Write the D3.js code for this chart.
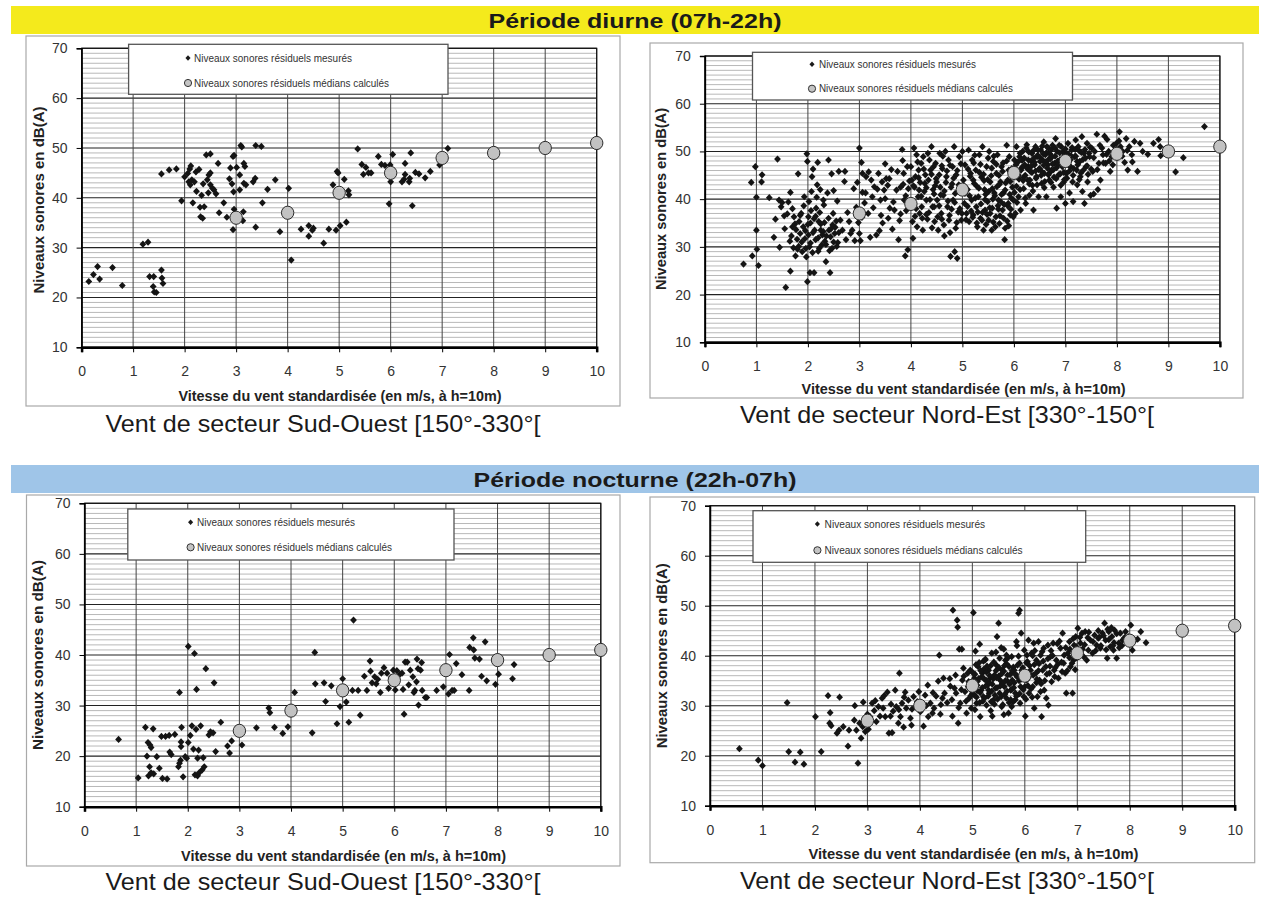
<!DOCTYPE html>
<html>
<head>
<meta charset="utf-8">
<script src="https://cdn.jsdelivr.net/npm/d3@7"></script>
<style>
body { margin: 0; background: #fff; }
svg { display: block; }
</style>
</head>
<body>
<svg id="chart" width="1268" height="899"></svg>
<script>
// tick labels
var xTicks = [0, 1, 2, 3, 4, 5, 6, 7, 8, 9, 10];
var yTicks = [10, 20, 30, 40, 50, 60, 70];

// median values (calculated) per wind speed
var medianSpeeds = [3, 4, 5, 6, 7, 8, 9, 10];
var swDayMedians = [36, 37, 41, 45, 48, 49, 50, 51];
var neDayMedians = [37, 39, 42, 45.5, 48, 49.5, 50, 51];
var swNightMedians = [25, 29, 33, 35, 37, 39, 40, 41];
var neNightMedians = [27, 30, 34, 36, 40.5, 43, 45, 46];

// measured residual levels [speed, dB(A)]
var swDayPoints = [
  [0.14,23.2],[0.23,24.6],[0.31,26.2],[0.35,23.7],[0.60,26.0],[0.79,22.4],[1.19,30.7],[1.29,31.1],
  [1.32,24.2],[1.40,24.2],[1.39,22.2],[1.41,21.1],[1.45,21.0],[1.55,25.5],[1.56,23.9],[1.58,22.8],
  [1.55,44.8],[1.70,45.6],[1.84,45.8],[1.94,39.4],[2.00,44.2],[2.06,44.9],[2.08,43.2],[2.10,45.8],
  [2.12,46.4],[2.11,42.6],[2.14,43.6],[2.19,43.2],[2.16,39.0],[2.22,45.2],[2.23,41.3],[2.28,45.7],
  [2.30,38.1],[2.31,36.2],[2.35,35.9],[2.33,40.5],[2.36,42.8],[2.38,38.2],[2.42,48.6],[2.50,48.8],
  [2.44,43.6],[2.47,44.6],[2.50,45.0],[2.46,41.0],[2.50,42.6],[2.54,41.9],[2.57,41.6],[2.61,40.8],
  [2.65,46.9],[2.67,37.0],[2.76,39.0],[2.82,36.1],[2.87,43.8],[2.89,46.0],[2.92,42.8],[2.94,48.3],
  [2.96,48.5],[2.95,41.2],[2.96,37.7],[2.94,33.6],[3.01,46.1],[3.07,44.6],[3.07,41.6],[3.09,50.5],
  [3.11,50.2],[3.14,37.2],[3.13,35.4],[3.15,46.9],[3.17,46.3],[3.15,42.9],[3.19,42.6],[3.33,43.2],
  [3.37,43.9],[3.38,34.1],[3.38,50.5],[3.49,50.3],[3.51,39.0],[3.61,41.7],[3.76,43.6],[3.85,33.2],
  [4.02,41.9],[4.07,27.5],[4.26,33.7],[4.41,32.3],[4.41,34.4],[4.48,33.5],[4.50,33.9],[4.70,30.9],
  [4.80,33.7],[4.94,33.5],[4.88,42.6],[4.96,45.3],[4.98,45.0],[5.02,34.4],[5.10,43.7],[5.14,35.1],
  [5.18,41.4],[5.19,40.6],[5.36,49.8],[5.44,46.7],[5.47,44.7],[5.52,46.1],[5.57,45.0],[5.62,45.0],
  [5.76,48.3],[5.82,46.7],[5.89,46.5],[5.97,38.8],[5.99,46.6],[6.00,43.2],[6.04,48.7],[6.22,43.2],
  [6.26,43.7],[6.28,46.9],[6.28,44.7],[6.36,43.2],[6.37,43.9],[6.39,49.0],[6.42,38.4],[6.48,45.1],
  [6.55,44.8],[6.67,44.0],[6.77,45.3],[6.95,46.6],[7.11,49.9]
];

var neDayPoints = [
  [0.75,26.4],[0.92,28.1],[0.90,43.5],[0.98,46.8],[1.00,40.4],[1.00,33.5],[1.01,29.5],[1.04,26.1],
  [1.10,43.6],[1.11,45.1],[1.25,40.3],[1.34,32.0],[1.37,35.8],[1.41,48.4],[1.44,39.8],[1.45,29.9],
  [1.48,38.4],[1.50,39.3],[1.54,36.5],[1.57,21.5],[1.62,39.4],[1.66,24.9],[1.66,41.4],[1.68,32.3],
  [1.70,34.2],[1.72,29.8],[1.73,36.3],[1.76,28.1],[1.77,33.6],[1.79,31.6],[1.81,45.3],[1.82,30.1],
  [1.83,35.3],[1.85,32.8],[1.87,37.0],[1.89,29.0],[1.91,34.2],[1.93,40.5],[1.94,31.7],[1.96,29.7],
  [1.98,49.5],[1.99,47.9],[1.99,22.7],[2.01,36.3],[2.01,32.5],[2.02,39.5],[2.04,24.6],[2.05,30.8],
  [2.07,41.6],[2.08,44.7],[2.10,46.3],[2.12,24.6],[2.13,33.5],[2.15,31.5],[2.16,38.1],[2.18,43.0],
  [2.19,47.7],[2.21,35.3],[2.22,29.7],[2.24,42.0],[2.25,33.5],[2.28,32.5],[2.30,39.8],[2.32,35.1],
  [2.33,31.2],[2.35,26.9],[2.38,41.3],[2.40,48.2],[2.41,33.5],[2.43,24.6],[2.44,32.1],[2.46,45.3],
  [2.47,29.7],[2.49,37.0],[2.50,41.8],[2.52,32.8],[2.53,34.1],[2.57,39.6],[2.58,30.9],[2.60,45.8],
  [2.63,35.6],[2.67,33.5],[2.71,43.7],[2.72,45.8],[2.74,31.5],[2.77,37.2],[2.80,35.3],[2.83,32.8],
  [2.86,33.5],[2.89,42.2],[2.91,31.3],[2.94,38.3],[2.96,43.5],[2.98,35.1],[3.00,50.7],[3.00,32.8],
  [3.02,31.3],[3.04,47.7],[3.06,41.4],[3.06,45.4],[3.10,39.2],[3.13,44.7],[3.17,37.0],[3.21,32.0],
  [3.23,44.0],[3.25,40.5],[3.29,42.6],[3.33,32.5],[3.37,45.4],[3.39,33.4],[3.41,39.8],[3.44,43.6],
  [3.45,35.0],[3.48,41.9],[3.50,47.4],[3.52,44.3],[3.55,42.9],[3.56,36.0],[3.59,38.1],[3.62,46.2],
  [3.64,33.7],[3.68,37.7],[3.72,41.9],[3.76,31.5],[3.78,35.5],[3.80,42.5],[3.83,50.4],[3.84,48.1],
  [3.86,45.4],[3.87,39.8],[3.89,28.1],[3.91,37.6],[3.94,29.4],[3.95,42.2],[3.97,43.8],[4.00,46.8],
  [4.01,39.1],[4.03,35.3],[4.04,31.8],[4.06,50.7],[4.07,42.5],[4.09,44.7],[4.11,49.3],[4.12,34.2],
  [4.14,40.5],[4.15,46.1],[4.17,37.0],[4.18,43.5],[4.20,47.5],[4.21,38.4],[4.23,33.5],[4.24,48.9],
  [4.26,41.6],[4.28,45.1],[4.30,39.8],[4.32,35.8],[4.34,44.0],[4.36,48.2],[4.38,46.1],[4.40,51.0],
  [4.42,38.4],[4.43,42.0],[4.46,35.3],[4.48,47.5],[4.49,44.3],[4.51,39.8],[4.53,33.5],[4.56,49.6],
  [4.57,42.5],[4.59,37.0],[4.61,46.4],[4.63,40.8],[4.65,32.3],[4.67,50.0],[4.69,44.7],[4.71,38.4],
  [4.73,48.2],[4.74,35.6],[4.77,28.0],[4.78,42.5],[4.81,46.8],[4.82,39.8],[4.84,51.0],[4.85,29.0],
  [4.87,33.9],[4.88,45.1],[4.90,27.6],[4.92,37.3],[4.94,48.9],[4.96,41.6],[4.98,35.6],[5.00,50.0],
  [5.02,44.0],[5.04,39.1],[5.05,47.2],[5.08,37.0],[5.10,42.0],[5.12,50.3],[5.13,35.3],[5.16,45.4],
  [5.18,39.8],[5.19,48.2],[5.21,36.7],[5.23,43.3],[5.26,46.1],[5.27,38.4],[5.29,34.2],[5.31,40.5],
  [5.33,49.3],[5.35,36.0],[5.37,44.6],[5.39,51.0],[5.41,33.5],[5.43,42.0],[5.44,37.7],[5.47,46.8],
  [5.49,39.5],[5.51,35.6],[5.52,50.0],[5.54,43.6],[5.57,33.5],[5.58,38.1],[5.60,47.9],[5.62,41.3],
  [5.65,36.3],[5.66,45.4],[5.68,49.3],[5.70,39.8],[5.72,34.9],[5.74,43.6],[5.76,46.8],[5.78,37.7],
  [5.80,41.3],[5.82,31.5],[5.83,33.9],[5.86,51.3],[5.88,44.0],[5.89,39.1],[5.91,48.9],[5.93,36.7],
  [5.96,46.4],[5.97,42.5],[5.99,39.8],[6.01,48.2],[6.03,37.0],[6.05,51.0],[6.07,44.7],[6.09,40.5],
  [6.11,48.9],[6.13,37.7],[6.14,46.1],[6.17,50.0],[6.19,42.2],[6.21,47.2],[6.23,39.1],[6.24,50.7],
  [6.27,44.0],[6.28,48.2],[6.30,40.8],[6.32,45.8],[6.35,49.6],[6.36,42.9],[6.38,37.7],[6.40,47.2],
  [6.42,51.0],[6.44,44.7],[6.45,48.9],[6.48,40.5],[6.50,46.4],[6.52,50.3],[6.54,43.3],[6.56,48.2],
  [6.58,52.0],[6.59,45.4],[6.61,49.3],[6.63,40.5],[6.66,47.2],[6.67,50.7],[6.69,44.0],[6.71,48.5],
  [6.73,46.1],[6.75,51.3],[6.77,42.5],[6.79,47.5],[6.81,52.7],[6.83,38.1],[6.84,50.0],[6.87,45.1],
  [6.89,48.2],[6.91,40.5],[6.92,51.0],[6.94,46.8],[6.97,43.6],[6.98,49.6],[7.00,39.1],[7.02,45.4],
  [7.05,51.7],[7.06,48.5],[7.08,41.3],[7.10,46.8],[7.12,50.3],[7.14,43.6],[7.15,39.5],[7.18,48.9],
  [7.20,52.4],[7.22,46.1],[7.23,43.0],[7.25,51.0],[7.28,47.9],[7.29,44.7],[7.32,53.1],[7.33,41.6],
  [7.36,49.6],[7.37,39.1],[7.40,46.8],[7.42,51.7],[7.43,43.6],[7.47,48.9],[7.49,40.8],[7.51,50.7],
  [7.53,45.8],[7.55,41.1],[7.57,50.0],[7.61,53.6],[7.63,42.0],[7.65,47.5],[7.68,44.0],[7.71,50.7],
  [7.73,49.3],[7.76,53.2],[7.78,47.5],[7.81,52.5],[7.84,50.0],[7.87,45.8],[7.90,48.9],[7.93,51.3],
  [7.96,49.6],[7.99,51.7],[8.02,48.9],[8.05,54.1],[8.07,51.0],[8.11,50.0],[8.15,47.7],[8.18,52.7],
  [8.21,46.1],[8.24,51.0],[8.29,49.3],[8.34,52.1],[8.40,45.8],[8.45,51.7],[8.50,50.0],[8.60,49.4],
  [8.71,51.7],[8.81,52.5],[8.84,51.0],[8.85,49.1],[9.14,45.7],[9.29,48.7],[9.70,55.2],
  [5.05,41.2],[5.10,38.5],[5.15,44.8],[5.20,36.2],[5.22,47.6],[5.25,40.2],[5.28,42.7],[5.30,37.3],
  [5.33,45.6],[5.36,39.0],[5.38,35.6],[5.42,43.9],[5.45,41.0],[5.48,36.8],[5.50,48.6],[5.53,38.2],
  [5.56,44.9],[5.58,42.2],[5.60,35.2],[5.63,40.7],[5.66,47.3],[5.70,37.9],[5.72,43.1],[5.75,39.4],
  [5.78,45.8],[5.80,36.0],[5.83,41.9],[5.86,48.0],[5.88,38.6],[5.90,34.4],[5.93,43.7],[5.95,40.2],
  [5.98,46.0],[6.02,45.3],[6.05,42.7],[6.08,47.8],[6.10,44.2],[6.12,49.6],[6.15,46.6],[6.18,43.9],
  [6.20,48.6],[6.22,45.0],[6.25,51.4],[6.28,46.9],[6.30,43.2],[6.33,48.0],[6.35,45.6],[6.38,50.2],
  [6.40,47.7],[6.43,44.4],[6.46,49.2],[6.48,46.2],[6.50,48.8],[6.53,45.0],[6.55,51.1],[6.58,47.1],
  [6.60,43.7],[6.63,49.7],[6.65,46.5],[6.68,48.4],[6.70,45.6],[6.73,50.4],[6.75,47.4],[6.78,44.6],
  [6.80,49.0],[6.83,46.6],[6.85,48.0],[6.88,51.3],[6.90,45.3],[6.93,47.9],[6.95,49.9],[6.98,44.1],
  [7.02,47.7],[7.05,49.5],[7.08,45.9],[7.10,48.3],[7.13,50.8],[7.16,46.4],[7.20,49.0],[7.24,47.2],
  [7.27,50.1],[7.30,45.5],[7.34,48.3],[7.38,50.4],[7.42,47.0],[7.46,49.6],[7.50,46.3],
  [4.05,42.8],[4.10,38.0],[4.15,44.5],[4.20,40.6],[4.25,46.3],[4.30,42.4],[4.35,37.2],[4.40,45.2],
  [4.45,41.1],[4.50,43.6],[4.55,38.6],[4.60,47.0],[4.65,41.7],[4.70,45.9],[4.75,36.6],[4.80,43.2],
  [4.85,39.3],[4.90,46.0],[4.95,38.0],
  [2.05,35.0],[2.10,33.0],[2.15,36.4],[2.20,31.9],[2.25,34.8],[2.30,33.2],[2.35,30.5],[2.40,36.0],
  [2.45,33.8],[2.50,31.0],[2.55,35.4],[2.60,33.0],
  [1.55,33.8],[1.60,36.9],[1.65,31.2],[1.70,38.0],[1.75,34.8],[1.80,29.5],[1.85,36.6],[1.88,31.0],
  [1.92,38.6],[1.95,33.4],[1.97,27.9],[2.00,34.7],[2.03,30.0],[2.06,37.6],[2.09,28.8],[2.12,35.9],
  [2.17,40.4],[2.20,29.1],[2.23,37.2],[2.27,30.4],[2.31,38.8],[2.36,32.3],[2.42,29.2],[2.48,34.6],
  [2.56,30.1],
  [3.05,36.2],[3.12,41.3],[3.18,45.7],[3.27,38.2],[3.35,42.1],[3.42,36.6],[3.50,40.1],[3.58,44.3],
  [3.66,39.4],[3.74,45.8],[3.80,36.9],[3.85,43.1],[3.90,40.7],[3.93,46.8],[3.98,38.8],
  [4.02,44.0],[4.08,36.4],[4.13,47.8],[4.16,41.9],[4.22,36.0],[4.27,43.3],[4.33,49.6],[4.37,39.9],
  [4.41,34.0],[4.44,46.8],[4.47,42.8],[4.52,36.3],[4.55,45.1],[4.58,40.9],[4.62,49.0],[4.64,34.6],
  [4.68,43.5],[4.72,39.6],[4.76,47.1],[4.79,37.9],[4.83,44.4],[4.86,41.2],[4.89,35.1],[4.93,43.0],
  [4.97,47.4],[4.99,37.0],[4.76,33.0],[4.60,35.8],[4.45,38.4],[4.30,36.8],
  [5.03,42.8],[5.07,35.7],[5.11,46.3],[5.14,40.7],[5.17,37.5],[5.21,44.0],[5.24,49.2],[5.28,35.0],
  [5.32,42.3],[5.35,47.3],[5.39,37.2],[5.41,45.2],[5.44,39.9],[5.46,34.7],[5.49,44.1],[5.51,41.6],
  [5.54,37.0],[5.57,46.5],[5.59,40.0],[5.61,49.0],[5.64,34.2],[5.67,42.6],[5.69,38.6],[5.71,45.0],
  [5.73,36.5],[5.76,41.0],[5.79,47.6],[5.81,38.9],[5.84,43.4],[5.87,35.4],[5.90,46.1],[5.92,41.0],
  [5.94,37.9],[5.97,44.9],[5.99,36.3],
  [6.01,41.4],[6.04,47.2],[6.06,39.3],[6.09,45.0],[6.12,42.0],[6.16,48.1],[6.19,44.6],[6.22,40.2],
  [6.26,46.4],[6.29,49.9],[6.31,44.0],[6.34,46.9],[6.37,41.7],[6.39,48.6],[6.42,45.9],[6.45,43.0],
  [6.47,50.3],[6.51,47.9],[6.54,45.8],[6.57,49.5],[6.59,42.4],[6.62,47.8],[6.64,51.0],[6.67,45.1],
  [6.70,49.5],[6.72,43.5],[6.74,48.9],[6.77,46.2],[6.80,50.7],[6.82,44.3],[6.86,47.3],[6.89,49.7],
  [6.91,42.9],[6.94,48.5],[6.97,45.6],[7.00,50.5],[7.03,44.4],[7.07,47.0],[7.11,49.1],[7.15,45.0],
  [7.19,50.4],[7.23,47.9],[7.27,44.1],[7.31,49.8],[7.35,46.1],[7.39,48.6],[7.44,45.2],[7.48,50.9],
  [7.55,48.7],[7.62,46.2],[7.67,51.3],[7.74,47.6],[7.80,49.4],[7.85,48.0],[7.92,47.2],[7.98,50.4],
  [8.04,52.2],[8.10,49.0],[8.20,50.2],[8.30,47.8]
];

var swNightPoints = [
  [0.66,23.3],[1.04,15.7],[1.18,25.7],[1.21,20.0],[1.23,22.7],[1.26,17.9],[1.27,22.2],[1.29,21.7],
  [1.24,16.1],[1.29,16.7],[1.34,16.5],[1.33,25.4],[1.40,19.9],[1.45,17.6],[1.49,23.9],[1.51,15.6],
  [1.57,23.9],[1.60,15.5],[1.64,24.1],[1.65,20.8],[1.68,20.3],[1.75,24.3],[1.82,17.9],[1.84,32.6],
  [1.86,19.2],[1.87,22.8],[1.87,21.9],[1.88,25.7],[1.84,18.6],[1.91,15.9],[1.95,19.9],[1.98,19.6],
  [2.01,41.7],[2.01,22.7],[2.05,24.1],[2.08,26.0],[2.11,21.4],[2.13,40.3],[2.14,16.3],[2.17,33.2],
  [2.16,25.3],[2.19,19.6],[2.19,16.1],[2.21,21.2],[2.22,16.7],[2.25,26.0],[2.28,17.3],[2.30,19.7],
  [2.32,17.9],[2.35,37.3],[2.41,24.2],[2.44,24.8],[2.49,24.6],[2.51,34.5],[2.54,20.9],[2.64,26.7],
  [2.77,22.0],[2.81,20.6],[2.85,23.0],[3.05,22.2],[3.33,25.6],[3.57,29.5],[3.59,28.6],[3.68,25.7],
  [3.84,24.5],[3.94,25.8],[4.07,32.6],[4.41,24.6],[4.46,40.5],[4.47,34.3],[4.64,34.5],[4.67,30.8],
  [4.78,33.9],[4.89,26.4],[4.95,29.8],[5.00,35.3],[5.07,30.7],[5.12,26.7],[5.19,33.0],[5.21,46.9],
  [5.30,33.0],[5.34,28.1],[5.42,35.8],[5.47,33.0],[5.53,38.8],[5.54,36.8],[5.57,34.5],[5.62,35.7],
  [5.65,34.3],[5.68,35.2],[5.73,32.6],[5.75,36.4],[5.80,37.5],[5.86,36.4],[5.89,33.4],[5.94,35.6],
  [5.98,37.0],[6.02,33.1],[6.05,36.9],[6.11,36.2],[6.15,36.4],[6.17,33.2],[6.19,28.3],[6.21,38.6],
  [6.25,38.6],[6.28,34.1],[6.31,37.0],[6.36,35.7],[6.38,32.6],[6.40,33.0],[6.43,34.7],[6.44,39.2],
  [6.46,37.3],[6.47,30.1],[6.51,37.0],[6.53,38.5],[6.54,33.0],[6.60,31.6],[6.63,31.6],[6.82,33.0],
  [6.95,33.7],[7.05,32.3],[7.07,40.1],[7.12,33.0],[7.16,33.0],[7.20,38.3],[7.31,36.1],[7.45,33.0],
  [7.46,41.5],[7.53,43.4],[7.54,41.0],[7.56,39.4],[7.65,39.2],[7.69,35.8],[7.76,42.6],[7.79,34.9],
  [7.96,34.2],[8.02,36.2],[8.29,35.3],[8.32,38.1]
];

var neNightPoints = [
  [0.56,21.4],[0.92,19.1],[1.00,18.0],[1.47,30.6],[1.50,20.8],[1.62,18.7],[1.72,20.7],[1.79,18.3],
  [2.01,27.8],[2.12,20.8],[2.25,32.0],[2.29,28.6],[2.28,26.5],[2.31,26.0],[2.42,24.5],[2.46,25.1],
  [2.47,31.7],[2.54,25.8],[2.63,21.9],[2.65,25.1],[2.75,27.1],[2.76,30.0],[2.79,25.1],[2.82,18.5],
  [2.85,26.5],[2.88,23.5],[2.91,25.8],[2.92,30.7],[2.94,26.8],[2.96,24.8],[3.02,25.3],[3.05,27.8],
  [3.09,30.5],[3.13,29.0],[3.17,26.8],[3.21,29.8],[3.24,27.9],[3.28,31.5],[3.32,32.0],[3.34,27.8],
  [3.38,32.7],[3.41,24.5],[3.44,27.9],[3.47,24.6],[3.49,28.9],[3.53,33.1],[3.55,29.8],[3.59,26.5],
  [3.61,36.5],[3.63,27.8],[3.66,30.5],[3.69,25.7],[3.72,32.7],[3.74,29.5],[3.78,31.1],[3.82,27.5],
  [3.84,26.1],[3.88,31.8],[3.92,29.8],[3.95,30.8],[4.01,28.8],[4.07,25.9],[4.10,32.1],[4.15,34.1],
  [4.16,27.8],[4.20,30.5],[4.24,28.5],[4.27,29.5],[4.31,31.9],[4.35,34.9],[4.37,40.1],[4.39,28.3],
  [4.43,31.5],[4.47,32.5],[4.58,33.9],[4.62,27.9],[4.63,49.1],[4.66,33.5],[4.69,32.5],[4.71,47.1],
  [4.72,45.7],[4.73,26.5],[4.75,41.3],[4.77,30.5],[4.80,41.3],[4.81,35.1],[4.83,37.5],[4.86,32.8],
  [4.89,28.5],[4.91,36.5],[4.92,33.8],[4.94,31.5],[4.96,37.1],[4.98,29.5],[5.00,32.5],[5.02,48.6],
  [5.04,35.5],[5.06,40.9],[5.08,30.5],[5.09,34.1],[5.11,37.8],[5.14,42.3],[5.15,27.8],[5.17,33.1],
  [5.19,36.5],[5.21,31.8],[5.23,35.3],[5.24,39.1],[5.27,30.1],[5.29,34.1],[5.31,37.1],[5.32,32.5],
  [5.34,35.5],[5.37,40.5],[5.38,27.9],[5.40,31.1],[5.42,36.1],[5.44,33.5],[5.46,38.1],[5.47,43.8],
  [5.50,46.5],[5.52,32.5],[5.53,35.1],[5.56,29.8],[5.57,37.1],[5.60,41.3],[5.61,33.8],[5.63,39.1],
  [5.65,31.5],[5.67,36.1],[5.69,28.5],[5.70,37.8],[5.73,33.1],[5.75,39.8],[5.76,35.1],[5.78,30.8],
  [5.80,37.1],[5.82,32.5],[5.84,42.8],[5.85,35.8],[5.88,48.5],[5.90,49.1],[5.90,38.5],[5.92,33.8],
  [5.93,44.5],[5.95,36.5],[5.98,31.8],[5.99,41.1],[6.01,27.9],[6.03,35.1],[6.05,38.8],[6.07,43.1],
  [6.08,32.5],[6.11,37.1],[6.13,40.5],[6.15,33.8],[6.17,42.5],[6.18,29.5],[6.21,36.5],[6.22,39.1],
  [6.24,31.8],[6.26,42.8],[6.28,35.1],[6.30,40.1],[6.32,27.8],[6.34,37.1],[6.36,41.5],[6.37,33.1],
  [6.40,37.8],[6.41,31.5],[6.44,42.1],[6.45,30.1],[6.47,36.5],[6.49,39.8],[6.51,34.8],[6.54,42.5],
  [6.56,37.1],[6.60,39.1],[6.64,35.5],[6.68,41.5],[6.72,44.5],[6.74,38.5],[6.77,36.5],[6.79,32.5],
  [6.82,40.5],[6.85,42.8],[6.87,37.8],[6.91,32.5],[6.93,39.1],[6.97,43.8],[6.98,41.8],[7.01,45.5],
  [7.04,40.5],[7.06,42.5],[7.09,44.5],[7.12,39.8],[7.15,44.8],[7.18,39.1],[7.21,41.1],[7.25,43.1],
  [7.29,40.5],[7.33,44.1],[7.37,42.1],[7.40,43.5],[7.44,41.5],[7.48,44.5],[7.52,46.5],[7.54,43.1],
  [7.57,39.5],[7.60,44.8],[7.63,41.8],[7.66,43.8],[7.69,41.1],[7.71,45.1],[7.75,39.5],[7.79,42.5],
  [7.82,44.5],[7.86,43.1],[7.92,44.8],[7.96,42.8],[8.02,46.1],[8.05,41.1],[8.10,43.1],[8.15,43.3],
  [8.21,44.8],[8.31,42.6],
  [5.02,33.4],[5.05,36.3],[5.08,31.7],[5.10,34.9],[5.13,38.6],[5.15,32.6],[5.18,35.8],[5.20,30.9],
  [5.22,37.3],[5.25,33.9],[5.27,36.7],[5.30,31.9],[5.32,34.6],[5.35,38.0],[5.37,32.9],[5.40,35.4],
  [5.42,30.3],[5.45,37.0],[5.47,33.6],[5.50,35.9],[5.52,39.5],[5.55,31.8],[5.57,34.4],[5.60,36.9],
  [5.62,32.3],[5.65,38.4],[5.67,34.9],[5.70,30.6],[5.72,36.2],[5.75,33.2],[5.78,37.7],[5.80,34.6],
  [5.82,31.2],[5.85,36.0],[5.88,39.9],[5.90,32.4],[5.93,35.3],[5.96,37.6],[6.00,33.8],[6.03,38.6],
  [6.06,34.0],[6.10,36.2],[6.14,31.7],[6.18,38.2],[6.22,34.6],[6.26,37.0],[6.30,32.8],[5.45,40.7],
  [5.55,41.6],[5.65,40.1],[5.25,39.3],[5.85,42.0],[6.15,40.0],[5.05,29.2],[5.35,29.0],[5.60,28.2],
  [5.75,29.8],[6.35,38.9],[6.42,36.3],[6.50,41.0],[6.58,37.6],[6.62,42.4],[6.70,38.7],[6.78,41.6],
  [6.85,39.6],[6.92,43.4],[6.96,37.2],[7.10,41.3],[7.20,43.6],[7.30,42.8],[7.40,45.0],[7.45,42.0],
  [7.50,44.0],[7.55,41.2],[7.60,43.2],[7.65,45.6],[7.70,42.6],[7.80,41.6],[7.90,43.6],
  [5.01,36.6],[5.04,32.1],[5.07,38.2],[5.09,33.0],[5.12,35.4],[5.14,30.6],[5.16,37.0],[5.19,33.6],
  [5.21,38.9],[5.23,31.5],[5.26,35.1],[5.28,37.9],[5.31,33.1],[5.33,36.0],[5.36,30.8],[5.38,34.3],
  [5.41,38.7],[5.43,32.1],[5.46,35.6],[5.48,31.3],[5.51,37.6],[5.53,33.9],[5.56,36.4],[5.58,30.2],
  [5.61,38.0],[5.63,35.0],[5.66,32.9],[5.68,39.6],[5.71,34.3],[5.73,31.2],[5.76,37.0],[5.79,33.6],
  [5.81,36.4],[5.84,31.9],[5.86,38.1],[5.89,35.0],[5.91,30.5],[5.94,37.1],[5.97,33.2],[6.00,36.5],
  [6.02,31.3],[6.04,40.1],[6.07,35.6],[6.09,38.0],[6.12,33.4],[6.16,36.1],[6.19,41.0],[6.23,35.3],
  [6.27,38.4],[6.31,34.4],
  [4.52,30.6],[4.57,35.4],[4.61,31.2],[4.68,36.1],[4.74,29.6],[4.79,33.2],[4.84,35.9],[4.88,30.9],
  [4.93,34.8],[4.97,32.0],
  [6.33,40.8],[6.38,35.0],[6.44,39.4],[6.48,37.9],[6.53,40.0],[6.57,35.8],[6.63,38.3],[6.66,42.9],
  [6.71,36.8],[6.75,40.1],[6.81,37.0],[6.86,41.3],[6.90,38.5],[6.94,42.1],[6.99,39.6],
  [7.05,43.7],[7.14,42.2],[7.22,44.7],[7.35,41.0],[7.42,43.7],[7.58,45.3],[7.68,42.0],[7.75,44.4],
  [7.85,42.0],[7.97,43.8],
  [3.00,28.3],[3.15,31.0],[3.30,29.5],[3.45,30.3],[3.60,29.2],[3.70,31.7],[3.85,29.3],[3.98,32.8],
  [4.12,30.0],[4.25,32.6],[4.40,30.2],[4.45,35.5]
];

// texts
var dayTitle = "Période diurne (07h-22h)";
var nightTitle = "Période nocturne (22h-07h)";
var swSubtitle = "Vent de secteur Sud-Ouest [150°-330°[";
var neSubtitle = "Vent de secteur Nord-Est [330°-150°[";
var xTitle = "Vitesse du vent standardisée (en m/s, à h=10m)";
var yTitle = "Niveaux sonores en dB(A)";
var legendMeasured = "Niveaux sonores  résiduels mesurés";
var legendMedian = "Niveaux sonores  résiduels médians calculés";

var svg = d3.select("#chart");
var font = "'Liberation Sans', Arial, sans-serif";

// banners
function drawBanner(y, h, color, text, cy, w) {
  svg.append("rect").attr("x", 11).attr("y", y).attr("width", 1248).attr("height", h)
    .attr("fill", color);
  svg.append("text").attr("x", 635).attr("y", cy)
    .attr("text-anchor", "middle").attr("dominant-baseline", "central")
    .attr("font-family", font).attr("font-weight", "bold").attr("font-size", 21)
    .attr("textLength", w).attr("lengthAdjust", "spacingAndGlyphs")
    .attr("fill", "#1a1a1a").text(text);
}
drawBanner(6, 28, "#f4ea1c", dayTitle, 20.5, 293);
drawBanner(465, 28, "#9fc5e8", nightTitle, 479.5, 323);

var diamond = "M0,-3.6L3.4,0L0,3.6L-3.4,0Z";

function drawPanel(c, points, medians, subtitle) {
  var g = svg.append("g");
  var x = d3.scaleLinear().domain([0, 10]).range([c.x0, c.x1]);
  var y = d3.scaleLinear().domain([10, 70]).range([c.yb, c.yt]);

  // outer frame
  g.append("rect").attr("x", c.f[0]).attr("y", c.f[1])
    .attr("width", c.f[2] - c.f[0]).attr("height", c.f[3] - c.f[1])
    .attr("fill", "#fff").attr("stroke", "#a9a9a9").attr("stroke-width", 1.2);

  // minor horizontal grid every 1 dB
  g.selectAll(".minor").data(y.ticks(60).filter(function(d) { return d % 10 != 0; }))
    .enter().append("line")
    .attr("x1", c.x0).attr("x2", c.x1)
    .attr("y1", function(d) { return y(d); }).attr("y2", function(d) { return y(d); })
    .attr("stroke", "#b8b8b8").attr("stroke-width", 1);

  // major horizontal grid
  g.selectAll(".major").data(yTicks).enter().append("line")
    .attr("x1", c.x0).attr("x2", c.x1)
    .attr("y1", function(d) { return y(d); }).attr("y2", function(d) { return y(d); })
    .attr("stroke", "#222").attr("stroke-width", 1.1);

  // vertical grid
  g.selectAll(".vgrid").data(xTicks).enter().append("line")
    .attr("x1", function(d) { return x(d); }).attr("x2", function(d) { return x(d); })
    .attr("y1", c.yt).attr("y2", c.yb)
    .attr("stroke", "#444").attr("stroke-width", 1);

  // plot border
  g.append("rect").attr("x", c.x0).attr("y", c.yt)
    .attr("width", c.x1 - c.x0).attr("height", c.yb - c.yt)
    .attr("fill", "none").attr("stroke", "#111").attr("stroke-width", 1.2);

  // axes
  var ax = g.append("g").attr("transform", "translate(0," + c.yb + ")")
    .call(d3.axisBottom(x).tickValues(xTicks).tickSize(5).tickPadding(14));
  var ay = g.append("g").attr("transform", "translate(" + c.x0 + ",0)")
    .call(d3.axisLeft(y).tickValues(yTicks).tickSize(5).tickPadding(9));
  [ax, ay].forEach(function(a) {
    a.select(".domain").attr("stroke", "#000").attr("stroke-width", 1.5);
    a.selectAll(".tick line").attr("stroke", "#000");
    a.selectAll(".tick text").attr("font-family", font).attr("font-size", 14)
      .attr("fill", "#333");
  });
  ax.select(".domain").attr("stroke-width", 2.5);

  // legend
  var lg = g.append("g");
  lg.append("rect").attr("x", c.l[0]).attr("y", c.l[1])
    .attr("width", c.l[2] - c.l[0]).attr("height", c.l[3] - c.l[1])
    .attr("fill", "#fff").attr("stroke", "#555").attr("stroke-width", 1.3);
  lg.append("path").attr("d", diamond)
    .attr("transform", "translate(" + c.lm + "," + c.rows[0] + ") scale(0.75)")
    .attr("fill", "#1a1a1a");
  lg.append("circle").attr("cx", c.lm).attr("cy", c.rows[1]).attr("r", 3.6)
    .attr("fill", "#c4c4c4").attr("stroke", "#333").attr("stroke-width", 1);
  [legendMeasured, legendMedian].forEach(function(t, i) {
    lg.append("text").attr("x", c.lt).attr("y", c.rows[i])
      .attr("dominant-baseline", "central")
      .attr("font-family", font).attr("font-size", 10).attr("fill", "#333")
      .attr("textLength", c.lw[i]).attr("lengthAdjust", "spacingAndGlyphs")
      .text(t);
  });

  // measured points
  g.append("g").selectAll("path").data(points).enter().append("path")
    .attr("d", diamond)
    .attr("transform", function(d) { return "translate(" + x(d[0]) + "," + y(d[1]) + ")"; })
    .attr("fill", "#141414");

  // median points
  g.append("g").selectAll("ellipse").data(medians).enter().append("ellipse")
    .attr("cx", function(d, i) { return x(medianSpeeds[i]); })
    .attr("cy", function(d) { return y(d); })
    .attr("rx", 6.2).attr("ry", 6.6)
    .attr("fill", "#c2c2c2").attr("stroke", "#2a2a2a").attr("stroke-width", 1);

  // axis titles
  g.append("text").attr("x", c.xt[0]).attr("y", c.xt[1])
    .attr("text-anchor", "middle").attr("dominant-baseline", "central")
    .attr("font-family", font).attr("font-weight", "bold").attr("font-size", 14)
    .attr("fill", "#222").attr("textLength", c.xt[2]).attr("lengthAdjust", "spacingAndGlyphs")
    .text(xTitle);
  g.append("text")
    .attr("transform", "translate(" + c.yl[0] + "," + c.yl[1] + ") rotate(-90)")
    .attr("text-anchor", "middle").attr("dominant-baseline", "central")
    .attr("font-family", font).attr("font-weight", "bold").attr("font-size", 14)
    .attr("fill", "#222").attr("textLength", c.yl[2]).attr("lengthAdjust", "spacingAndGlyphs")
    .text(yTitle);

  // subtitle below the frame
  svg.append("text").attr("x", c.st[0]).attr("y", c.st[1])
    .attr("text-anchor", "middle").attr("dominant-baseline", "central")
    .attr("font-family", font).attr("font-size", 24).attr("fill", "#1a1a1a")
    .attr("textLength", c.st[2]).attr("lengthAdjust", "spacingAndGlyphs")
    .text(subtitle);
}

drawPanel({
  f: [26, 36, 620, 406], x0: 81.6, x1: 596.7, yt: 48.3, yb: 347.3,
  l: [128.6, 44.3, 448, 94.3], lm: 188, lt: 194, rows: [58, 83], lw: [158, 195],
  xt: [340, 396, 323], yl: [39, 200, 187], st: [323, 423, 435]
}, swDayPoints, swDayMedians, swSubtitle);

drawPanel({
  f: [650, 43, 1243, 398], x0: 704.9, x1: 1219.9, yt: 56, yb: 342.3,
  l: [752.5, 52.3, 1072.5, 100], lm: 812, lt: 819, rows: [64.3, 88.7], lw: [157, 194],
  xt: [963.6, 389, 324], yl: [661, 199, 182], st: [947, 414, 414]
}, neDayPoints, neDayMedians, neSubtitle);

drawPanel({
  f: [26.5, 495, 620, 866], x0: 84.5, x1: 600.8, yt: 503.3, yb: 806.7,
  l: [127.8, 509, 454, 560], lm: 190.6, lt: 197, rows: [522.3, 547.3], lw: [158, 195],
  xt: [343.5, 856, 325], yl: [38, 655, 190], st: [323, 881.7, 435]
}, swNightPoints, swNightMedians, swSubtitle);

drawPanel({
  f: [650, 497, 1254.7, 862.7], x0: 710, x1: 1234.7, yt: 505.7, yb: 805.7,
  l: [753, 510.7, 1085.7, 562.3], lm: 817.4, lt: 824.6, rows: [524, 550.3], lw: [160.6, 198],
  xt: [973.4, 854.3, 330], yl: [662, 655.8, 185], st: [947, 880, 414]
}, neNightPoints, neNightMedians, neSubtitle);
</script>
</body>
</html>
